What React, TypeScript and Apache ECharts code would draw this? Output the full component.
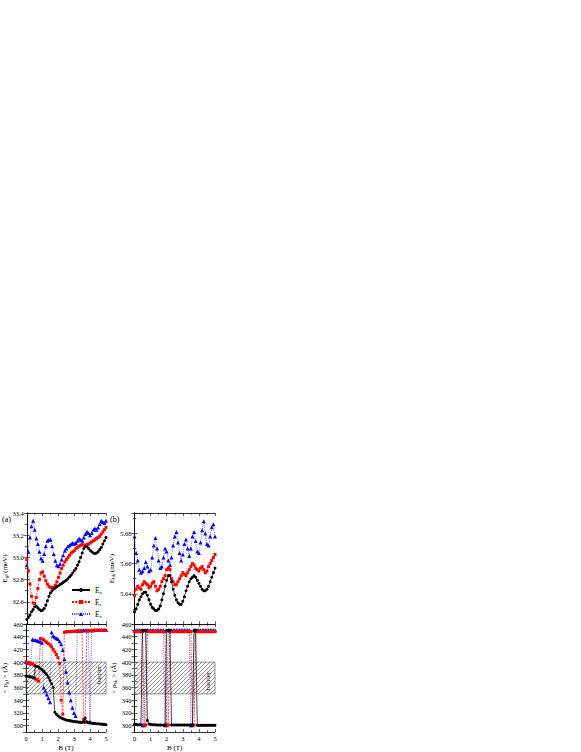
import React, { useEffect, useRef } from "react";
import * as echarts from "echarts";

const FONT = '"Liberation Serif", "Times New Roman", Times, serif';

// Magnetic field B (T)
const bField = [
  0, 0.1, 0.2, 0.3, 0.4, 0.5, 0.6, 0.7, 0.8, 0.9,
  1.0, 1.1, 1.2, 1.3, 1.4, 1.5, 1.6, 1.7, 1.8, 1.9,
  2.0, 2.1, 2.2, 2.3, 2.4, 2.5, 2.6, 2.7, 2.8, 2.9,
  3.0, 3.1, 3.2, 3.3, 3.4, 3.5, 3.6, 3.7, 3.8, 3.9,
  4.0, 4.1, 4.2, 4.3, 4.4, 4.5, 4.6, 4.7, 4.8, 4.9, 5.0,
];

// (a) E_gl (meV)
const eglE0 = [
  32.44, 32.46, 32.48, 32.51, 32.53, 32.555, 32.56, 32.545, 32.53, 32.52,
  32.525, 32.54, 32.57, 32.61, 32.65, 32.68, 32.70, 32.715, 32.725, 32.735,
  32.745, 32.755, 32.765, 32.775, 32.785, 32.795, 32.81, 32.825, 32.84, 32.86,
  32.88, 32.90, 32.93, 32.96, 33.0, 33.04, 33.08, 33.10, 33.095, 33.08,
  33.065, 33.05, 33.04, 33.035, 33.04, 33.05, 33.07, 33.09, 33.12, 33.15, 33.18,
];
const eglE1 = [
  32.98, 32.88, 32.76, 32.65, 32.59, 32.585, 32.64, 32.72, 32.80, 32.86,
  32.87, 32.83, 32.79, 32.76, 32.74, 32.73, 32.725, 32.73, 32.75, 32.78,
  32.82, 32.86, 32.90, 32.93, 32.96, 32.98, 33.0, 33.02, 33.04, 33.05,
  33.06, 33.08, 33.09, 33.10, 33.11, 33.115, 33.11, 33.11, 33.115, 33.12,
  33.13, 33.14, 33.15, 33.16, 33.17, 33.18, 33.19, 33.21, 33.23, 33.25, 33.27,
];
const eglE2 = [
  32.93, 33.05, 33.18, 33.28, 33.33, 33.25, 33.17, 33.12, 33.05, 32.99,
  32.97, 33.03, 33.10, 33.15, 33.16, 33.16, 33.10, 33.03, 32.97, 32.93,
  32.92, 32.94, 32.98, 33.02, 33.06, 33.08, 33.10, 33.11, 33.12, 33.13,
  33.12, 33.13, 33.15, 33.17, 33.16, 33.15, 33.18, 33.21, 33.23, 33.22,
  33.20, 33.22, 33.25, 33.26, 33.25, 33.27, 33.30, 33.33, 33.32, 33.31, 33.33,
];

// (b) E_bb (meV)
const ebbE0 = [
  5.628, 5.630, 5.633, 5.636, 5.638, 5.640, 5.641, 5.641, 5.639, 5.636,
  5.633, 5.631, 5.630, 5.629, 5.629, 5.630, 5.632, 5.636, 5.640, 5.645,
  5.649, 5.652, 5.652, 5.648, 5.643, 5.639, 5.636, 5.634, 5.633, 5.633,
  5.635, 5.638, 5.642, 5.645, 5.648, 5.650, 5.651, 5.652, 5.651, 5.649,
  5.647, 5.645, 5.643, 5.642, 5.642, 5.643, 5.645, 5.648, 5.651, 5.654, 5.657,
];
const ebbE1 = [
  5.639, 5.643, 5.645, 5.644, 5.643, 5.646, 5.648, 5.647, 5.646, 5.644,
  5.645, 5.647, 5.648, 5.645, 5.642, 5.643, 5.645, 5.648, 5.650, 5.652,
  5.656, 5.657, 5.656, 5.650, 5.648, 5.646, 5.646, 5.648, 5.650, 5.652,
  5.654, 5.653, 5.652, 5.654, 5.656, 5.658, 5.660, 5.659, 5.657, 5.656,
  5.655, 5.657, 5.658, 5.656, 5.654, 5.655, 5.658, 5.660, 5.662, 5.664, 5.666,
];
const ebbE2 = [
  5.678, 5.667, 5.662, 5.656, 5.654, 5.655, 5.657, 5.661, 5.658, 5.655,
  5.656, 5.664, 5.672, 5.677, 5.670, 5.662, 5.657, 5.658, 5.664, 5.670,
  5.668, 5.662, 5.659, 5.664, 5.672, 5.678, 5.681, 5.674, 5.667, 5.662,
  5.666, 5.673, 5.676, 5.670, 5.665, 5.670, 5.678, 5.681, 5.675, 5.668,
  5.667, 5.674, 5.682, 5.688, 5.680, 5.673, 5.672, 5.678, 5.684, 5.686, 5.678,
];

// (a) <rho_gl> (Å)
const rhoGlE0 = [
  378, 377.7, 377.3, 376.7, 376, 375, 394, 393, 392, 390,
  388, 385.5, 383, 380, 376, 371, 366, 360, 321, 318,
  315.5, 313.5, 312, 311, 310, 309, 308.5, 308, 307.5, 307,
  306.5, 306, 306, 305.5, 305.5, 305, 306, 312, 306, 304.5,
  304, 304, 303.5, 303.5, 303, 303, 302.5, 302.5, 302, 302, 301.5,
];
const rhoGlE1 = [
  400, 399.5, 399, 398, 397, 395.5, 373.5, 372, 370, 437,
  436.5, 435, 433, 431, 429, 427, 424, 420, 416, 412,
  407, 398, 340, 318, 447, 447.5, 448, 448, 448, 448.5,
  448.5, 448.5, 449, 449, 449, 449, 310, 305, 449, 449.5,
  449.5, 449.5, 449.5, 450, 450, 450, 450, 450, 450, 450, 450,
];
const rhoGlE2 = [
  400, 399.5, 399, 398, 435.5, 435, 434.5, 434, 433, 432,
  430.5, 360, 355, 349, 343, 337, 447, 441, 439, 437.5,
  436.5, 433, 428, 419, 405, 385, 368, 352, 340, 328,
  320, 315, 449, 449.5, 449.5, 450, 450, 450, 450, 450,
  306, 450, 450, 450.5, 450.5, 450.5, 450.5, 450.5, 450.5, 450.5, 450.5,
];

// (b) <rho_bb> (Å)
const rhoBbE0 = [
  302, 302, 301.5, 301.5, 301.5, 450, 450, 450, 308, 302.5,
  302, 301.5, 301.5, 301.5, 301, 301, 301, 301, 301, 301,
  450, 450, 450, 301, 301, 301, 301, 301, 301, 301,
  301, 301, 301, 301, 301, 301, 301, 450, 450, 300.5,
  300.5, 300.5, 300.5, 300.5, 300.5, 300.5, 300.5, 300.5, 300.5, 300.5, 300.5,
];
const rhoBbE1 = [
  448, 448, 448, 448, 448, 448, 301, 301, 448, 448,
  448, 448, 448, 448, 448, 448, 448, 448, 448, 448,
  301, 301, 448, 448, 448, 448, 448, 448, 448, 448,
  448, 448, 448, 448, 448, 448, 301, 301, 448, 448,
  448, 448, 448, 448, 448, 448, 448, 448, 448, 448, 448,
];
const rhoBbE2 = [
  450, 450, 450, 450, 450, 300.5, 300.5, 450, 450, 450,
  450, 450, 450, 450, 450, 450, 450, 450, 450, 300.5,
  300.5, 450, 450, 450, 450, 450, 450, 450, 450, 450,
  450, 450, 450, 450, 450, 300.5, 300.5, 450, 450, 450,
  450, 450, 450, 450, 450, 450, 450, 450, 450, 450, 450,
];

const barrier = [350, 400];
const levelNames = ["E\u2080", "E\u2081", "E\u2082"];

// layout
const GRIDS = [
  { left: 26, top: 513, width: 80, height: 111 }, // (a) energy
  { left: 26, top: 624, width: 80, height: 109 }, // (a) radius
  { left: 134.5, top: 513, width: 80.5, height: 111 }, // (b) energy
  { left: 134.5, top: 624, width: 80.5, height: 109 }, // (b) radius
];

const LEVEL_STYLE = [
  { color: "#000000", symbol: "circle", size: 3, lineType: "solid" as any },
  { color: "#ff0000", symbol: "rect", size: 3, lineType: [2, 1.2] as any },
  { color: "#0000ff", symbol: "triangle", size: 4, lineType: [0.7, 1.2] as any },
];

const hatchSvg =
  "<svg xmlns='http://www.w3.org/2000/svg' width='4' height='4'>" +
  "<path d='M-1,1 L1,-1 M0,4 L4,0 M3,5 L5,3' stroke='#444' stroke-width='0.55'/></svg>";
const hatchUrl = "data:image/svg+xml;charset=utf-8," + encodeURIComponent(hatchSvg);

const richName = {
  n: { fontFamily: FONT, fontSize: 7, color: "#000" },
  s: { fontFamily: FONT, fontSize: 5, color: "#000", verticalAlign: "bottom", padding: [3, 0, 0, 0] },
};

function pairs(ys: number[]) {
  return bField.map((b, i) => [b, ys[i]]);
}

const lineAxis = { show: true, lineStyle: { color: "#000", width: 0.8 } };
const tickStyle = { color: "#000", width: 0.6 };

function xAxes(gridIndex: number, labels: boolean) {
  const common: any = {
    type: "value",
    gridIndex,
    min: 0,
    max: 5,
    interval: 1,
    axisLine: lineAxis,
    axisTick: { show: true, inside: true, length: 3, lineStyle: tickStyle },
    minorTick: { show: true, splitNumber: 2, length: 1.8, lineStyle: tickStyle },
    splitLine: { show: false },
  };
  return [
    {
      ...common,
      position: "bottom",
      axisLabel: { show: labels, fontSize: 6.5, fontFamily: FONT, color: "#000", margin: 3 },
      name: labels ? "B (T)" : "",
      nameLocation: "middle",
      nameGap: 12,
      nameTextStyle: { fontFamily: FONT, fontSize: 7, color: "#000" },
    },
    { ...common, position: "top", axisLabel: { show: false } },
  ];
}

function yAxes(gridIndex: number, cfg: any, name: string) {
  const common: any = {
    type: "value",
    gridIndex,
    min: cfg.min,
    max: cfg.max,
    interval: cfg.interval,
    axisLine: lineAxis,
    axisTick: { show: true, inside: true, length: 3, lineStyle: tickStyle },
    minorTick: { show: cfg.minor, splitNumber: 2, length: 1.8, lineStyle: tickStyle },
    splitLine: { show: false },
  };
  return [
    {
      ...common,
      position: "left",
      axisLabel: {
        show: true,
        fontSize: 6.5,
        fontFamily: FONT,
        color: "#000",
        margin: 3,
        showMinLabel: cfg.showMin,
        showMaxLabel: cfg.showMax,
        formatter: cfg.formatter,
      },
      name,
      nameLocation: "middle",
      nameGap: cfg.nameGap,
      nameTextStyle: { fontFamily: FONT, fontSize: 7, color: "#000", rich: richName },
    },
    { ...common, position: "right", axisLabel: { show: false } },
  ];
}

const energyA = { min: 32.4, max: 33.4, interval: 0.2, minor: true, showMin: false, showMax: true, nameGap: 14, formatter: (v: number) => v.toFixed(1) };
const energyB = { min: 5.62, max: 5.6935, interval: 0.02, minor: true, showMin: false, showMax: false, nameGap: 16, formatter: (v: number) => v.toFixed(2) };
const radius = {
  min: 290, max: 460, interval: 10, minor: false, showMin: false, showMax: true, nameGap: 14,
  formatter: (v: number) => (Math.round(v) % 20 === 0 ? String(Math.round(v)) : ""),
};

function buildOption(): any {
  const xAxis: any[] = [];
  const yAxis: any[] = [];
  xAxis.push(...xAxes(0, false), ...xAxes(1, true), ...xAxes(2, false), ...xAxes(3, true));
  yAxis.push(
    ...yAxes(0, energyA, "{n|E}{s|gl}{n| (meV)}"),
    ...yAxes(1, radius, "{n|< \u03C1}{s|gl}{n| > (\u00C5)}"),
    ...yAxes(2, energyB, "{n|E}{s|bb}{n| (meV)}"),
    ...yAxes(3, { ...radius, nameGap: 14 }, "{n|< \u03C1}{s|bb}{n| > (\u00C5)}"),
  );

  const panels = [
    [eglE0, eglE1, eglE2],
    [rhoGlE0, rhoGlE1, rhoGlE2],
    [ebbE0, ebbE1, ebbE2],
    [rhoBbE0, rhoBbE1, rhoBbE2],
  ];

  const series: any[] = [];
  panels.forEach((sets, p) => {
    if (p === 1 || p === 3) {
      series.push({
        type: "line",
        name: "barrier",
        xAxisIndex: p * 2,
        yAxisIndex: p * 2,
        data: [],
        z: 1,
        silent: true,
        markArea: {
          silent: true,
          itemStyle: {
            color: { image: hatchUrl, repeat: "repeat", imageWidth: 4, imageHeight: 4 },
            borderColor: "#666",
            borderWidth: 0.7,
          },
          data: [[{ yAxis: barrier[0] }, { yAxis: barrier[1] }]],
        },
      });
    }
    [2, 1, 0].forEach((k) => {
      const st = LEVEL_STYLE[k];
      series.push({
        type: "line",
        name: levelNames[k],
        xAxisIndex: p * 2,
        yAxisIndex: p * 2,
        data: pairs(sets[k]),
        z: 2 + (2 - k),
        symbol: st.symbol,
        symbolSize: st.size,
        showAllSymbol: true,
        itemStyle: { color: st.color },
        lineStyle: { color: st.color, width: 0.7, type: st.lineType },
        emphasis: { disabled: true },
      });
    });
  });

  return {
    animation: false,
    backgroundColor: "#ffffff",
    grid: GRIDS.map((g) => ({ ...g, containLabel: false })),
    xAxis,
    yAxis,
    legend: {
      data: levelNames,
      orient: "vertical",
      left: 71,
      top: 586,
      padding: 0,
      itemWidth: 18,
      itemHeight: 5,
      itemGap: 4,
      selectedMode: false,
      textStyle: { fontFamily: FONT, fontSize: 7.5, color: "#000" },
    },
    series,
    graphic: [
      { type: "text", left: 2, top: 515, style: { text: "(a)", font: `8px ${FONT}`, fill: "#000" } },
      { type: "text", left: 110, top: 515, style: { text: "(b)", font: `8px ${FONT}`, fill: "#000" } },
      {
        type: "text", x: 99, y: 675, rotation: Math.PI / 2,
        style: { text: "barrier", font: `7px ${FONT}`, fill: "#000", align: "center", verticalAlign: "middle" },
      },
      {
        type: "text", x: 208, y: 681, rotation: Math.PI / 2,
        style: { text: "barrier", font: `7px ${FONT}`, fill: "#000", align: "center", verticalAlign: "middle" },
      },
    ],
  };
}

export default function App() {
  const ref = useRef<HTMLDivElement>(null);
  useEffect(() => {
    const chart = echarts.init(ref.current as HTMLDivElement, null, { renderer: "svg" });
    chart.setOption(buildOption());
    return () => chart.dispose();
  }, []);
  return (
    <div
      ref={ref}
      style={{ position: "absolute", left: 0, top: 0, width: 581, height: 752, background: "#fff" }}
    />
  );
}
